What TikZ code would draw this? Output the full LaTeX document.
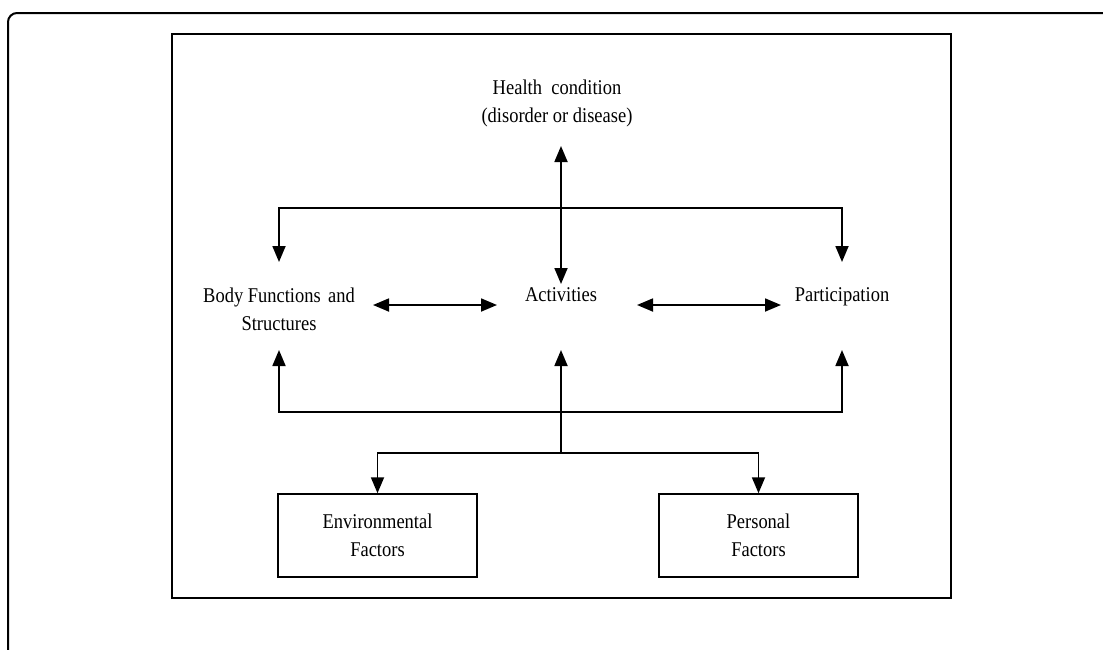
\documentclass[tikz,border=0pt]{standalone}
\usepackage{fontspec}
\setmainfont{Liberation Serif}[FakeStretch=0.88]
\usetikzlibrary{arrows.meta}
\begin{document}
\begin{tikzpicture}[x=1pt,y=-1pt,
  >={Triangle[length=16pt,width=13pt]},
  lbl/.style={font=\fontsize{21}{28}\selectfont, align=center, inner sep=0pt},
  factorbox/.style={lbl, draw, line width=1.5pt, minimum width=199pt, minimum height=83pt},
  conn/.style={line width=1.8pt},
  arr/.style={conn, ->},
  darr/.style={conn, <->},
  frame/.style={line width=1.5pt}
]
\useasboundingbox (0,0) rectangle (1103,649);
\clip (0,0) rectangle (1103,649);
% frames
\draw[line width=2pt, rounded corners=9pt] (8,665) -- (8,13) -- (1115,13);
\draw[frame] (172,34) rectangle (951,598);
% nodes
\node[lbl] (hc) at (557,103.5) {Health\hspace{0.45em}condition\\(disorder or disease)};
\node[lbl] (bf) at (279,309.5) {Body Functions\hspace{0.35em}and\\Structures};
\node[lbl] (act) at (561,295) {Activities};
\node[lbl] (par) at (842,297) {Participation};
\node[factorbox] (env) at (377.5,535.5) {Environmental\\Factors};
\node[factorbox] (pers) at (758.5,535.5) {Personal\\Factors};
% connector points
\coordinate (hcB) at (561,146);
\coordinate (actT) at (561,284);
\coordinate (actB) at (561,350);
\coordinate (actL) at (497,305);
\coordinate (actR) at (637,305);
\coordinate (bfT) at (279,262);
\coordinate (bfB) at (279,350);
\coordinate (bfR) at (373,305);
\coordinate (parT) at (842,262);
\coordinate (parB) at (842,350);
\coordinate (parL) at (781,305);
\coordinate (tl) at (279,208);
\coordinate (tr) at (842,208);
\coordinate (bl) at (279,412);
\coordinate (br) at (842,412);
\coordinate (jm) at (561,453);
% connectors
\draw[darr] (actT) -- (hcB);
\draw[darr] (bfT) -- (tl) -- (tr) -- (parT);
\draw[darr] (bfR) -- (actL);
\draw[darr] (actR) -- (parL);
\draw[darr] (bfB) -- (bl) -- (br) -- (parB);
\draw[arr] (jm) -- (actB);
\draw[arr] (jm) -| (env.north);
\draw[arr] (jm) -| (pers.north);
\end{tikzpicture}
\end{document}
